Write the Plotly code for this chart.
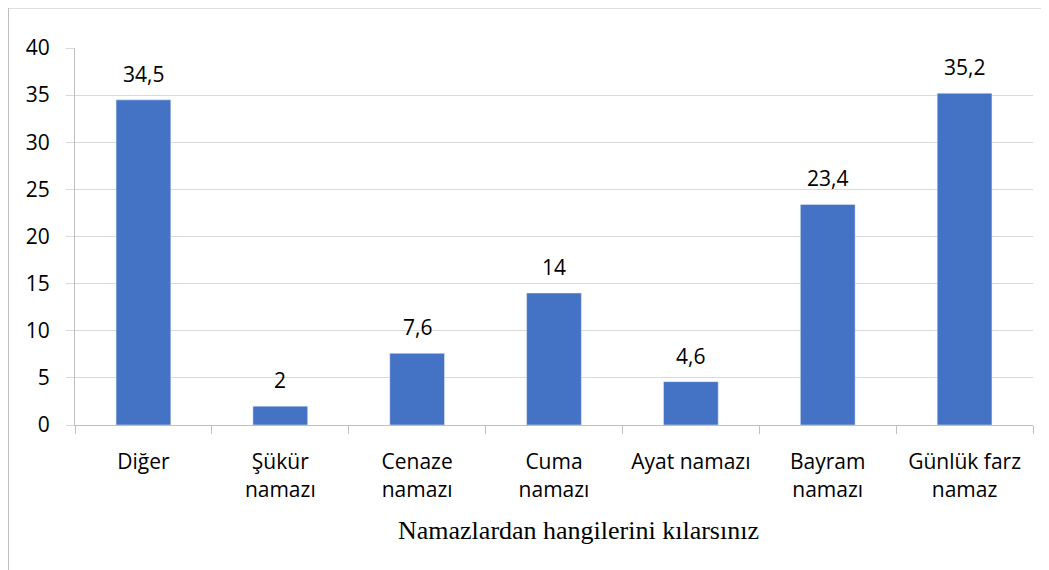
import plotly.graph_objects as go

categories = ["Diğer", "Şükür namazı", "Cenaze namazı", "Cuma namazı", "Ayat namazı", "Bayram namazı", "Günlük farz namaz"]
tick_labels = ["Diğer", "Şükür<br>namazı", "Cenaze<br>namazı", "Cuma<br>namazı", "Ayat namazı", "Bayram<br>namazı", "Günlük farz<br>namaz"]
values = [34.5, 2, 7.6, 14, 4.6, 23.4, 35.2]
value_labels = ["34,5", "2", "7,6", "14", "4,6", "23,4", "35,2"]
y_ticks = [0, 5, 10, 15, 20, 25, 30, 35, 40]
x_title = "Namazlardan hangilerini kılarsınız"

font_main = "Open Sans"
fs = 21

fig = go.Figure(go.Bar(
    x=categories, y=values,
    marker=dict(color="#4472C4"),
))

for c, v, t in zip(categories, values, value_labels):
    fig.add_annotation(
        x=c, y=v, xref="x", yref="y", text=t, showarrow=False,
        xanchor="center", yanchor="bottom", yshift=10,
        font=dict(family=font_main, size=fs, color="#000000"),
    )

# page has an 8px body margin; figure coords = page coords - 8
W, H = 1041, 562
ml, mr, mt, mb = 67, 16, 40, 145
pw = W - ml - mr
ph = H - mt - mb

fig.update_layout(
    width=W, height=H,
    margin=dict(l=ml, r=mr, t=mt, b=mb, autoexpand=False),
    paper_bgcolor="white", plot_bgcolor="white",
    bargap=0.6, showlegend=False,
    font=dict(family=font_main, size=fs, color="#000000"),
)
fig.update_xaxes(
    type="category", tickvals=categories, ticktext=tick_labels,
    tickson="boundaries", ticks="outside", ticklen=8, tickcolor="#bfbfbf",
    ticklabelstandoff=18,
    showline=True, linecolor="#bfbfbf", linewidth=1,
    showgrid=False, tickfont=dict(family=font_main, size=fs, color="#000000"),
)
fig.update_yaxes(
    range=[0, 40], tickvals=y_ticks, ticks="outside", ticklen=8, tickcolor="#d9d9d9",
    ticklabelstandoff=12,
    showline=True, linecolor="#bfbfbf", linewidth=1,
    showgrid=True, gridcolor="#d9d9d9", gridwidth=1, zeroline=False,
    tickfont=dict(family=font_main, size=fs, color="#000000"),
)
fig.add_annotation(
    text=x_title, xref="paper", yref="paper",
    x=(570 - ml) / pw, y=-(522 - mt - ph) / ph, xanchor="center", yanchor="middle",
    showarrow=False, font=dict(family="Liberation Serif", size=26, color="#000000"),
)
fig.add_shape(
    type="rect", xref="paper", yref="paper",
    x0=(0.5 - ml) / pw, x1=(1060 - ml) / pw,
    y0=-(600 - mt - ph) / ph, y1=1 + (mt - 0) / ph,
    line=dict(color="#bfbfbf", width=1), layer="below",
)
fig.write_html("out.html")
